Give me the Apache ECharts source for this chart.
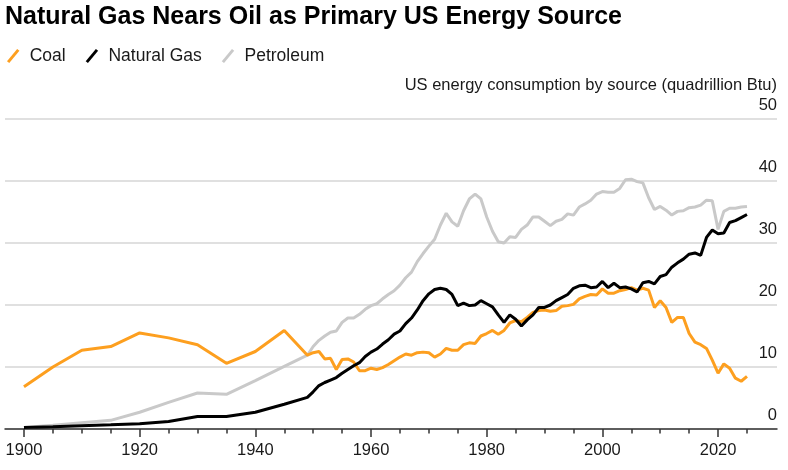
<!DOCTYPE html>
<html>
<head>
<meta charset="utf-8">
<script src="https://cdn.jsdelivr.net/npm/echarts@6/dist/echarts.min.js"></script>
<style>
  html, body { margin: 0; padding: 0; background: #fff; }
  #chart { width: 788px; height: 470px; }
</style>
</head>
<body>
<div id="chart"></div>
<script>
// years: 5-year steps before 1949, annual after
const years = [1900, 1905, 1910, 1915, 1920, 1925, 1930, 1935, 1940, 1945,
  1949, 1950, 1951, 1952, 1953, 1954, 1955, 1956, 1957, 1958, 1959,
  1960, 1961, 1962, 1963, 1964, 1965, 1966, 1967, 1968, 1969,
  1970, 1971, 1972, 1973, 1974, 1975, 1976, 1977, 1978, 1979,
  1980, 1981, 1982, 1983, 1984, 1985, 1986, 1987, 1988, 1989,
  1990, 1991, 1992, 1993, 1994, 1995, 1996, 1997, 1998, 1999,
  2000, 2001, 2002, 2003, 2004, 2005, 2006, 2007, 2008, 2009,
  2010, 2011, 2012, 2013, 2014, 2015, 2016, 2017, 2018, 2019,
  2020, 2021, 2022, 2023, 2024, 2025];

const coal = [6.8, 10.0, 12.7, 13.3, 15.5, 14.7, 13.6, 10.6, 12.5, 15.9,
  11.9, 12.3, 12.5, 11.3, 11.4, 9.6, 11.2, 11.3, 10.8, 9.4, 9.4,
  9.8, 9.6, 9.9, 10.4, 11.0, 11.6, 12.1, 11.9, 12.3, 12.4,
  12.3, 11.6, 12.1, 13.0, 12.7, 12.7, 13.6, 13.9, 13.8, 15.0,
  15.4, 15.9, 15.3, 15.9, 17.1, 17.5, 17.3, 18.0, 18.8, 19.1,
  19.2, 19.0, 19.1, 19.8, 19.9, 20.1, 21.0, 21.4, 21.7, 21.6,
  22.6, 21.9, 21.9, 22.3, 22.5, 22.8, 22.4, 22.7, 22.4, 19.6,
  20.7, 19.6, 17.2, 18.0, 18.0, 15.4, 14.0, 13.6, 13.0, 11.1,
  9.0, 10.5, 9.8, 8.2, 7.7, 8.5];

const naturalGas = [0.25, 0.37, 0.54, 0.67, 0.83, 1.2, 2.0, 2.0, 2.7, 4.0,
  5.1, 6.0, 7.0, 7.5, 7.9, 8.3, 9.0, 9.6, 10.2, 10.7, 11.7,
  12.4, 12.9, 13.7, 14.4, 15.3, 15.8, 17.0, 17.9, 19.2, 20.7,
  21.8, 22.5, 22.7, 22.5, 21.7, 19.9, 20.3, 19.9, 20.0, 20.7,
  20.2, 19.7, 18.4, 17.2, 18.4, 17.7, 16.6, 17.6, 18.4, 19.6,
  19.6, 20.0, 20.7, 21.2, 21.7, 22.7, 23.1, 23.2, 22.8, 22.9,
  23.8, 22.8, 23.5, 22.8, 22.9, 22.6, 22.1, 23.6, 23.8, 23.4,
  24.6, 24.9, 26.1, 26.8, 27.4, 28.2, 28.4, 28.0, 30.9, 32.1,
  31.5, 31.6, 33.3, 33.6, 34.1, 34.6];

const petroleum = [0.23, 0.6, 1.0, 1.4, 2.7, 4.3, 5.8, 5.6, 7.8, 10.1,
  11.9, 13.3, 14.3, 15.0, 15.6, 15.8, 17.2, 17.9, 17.9, 18.5, 19.3,
  19.9, 20.2, 21.0, 21.7, 22.3, 23.2, 24.4, 25.3, 27.0, 28.3,
  29.5, 30.6, 32.9, 34.8, 33.4, 32.7, 35.2, 37.1, 37.9, 37.1,
  34.2, 31.9, 30.2, 30.0, 31.0, 30.9, 32.2, 32.9, 34.2, 34.2,
  33.5, 32.8, 33.5, 33.8, 34.7, 34.5, 35.8, 36.3, 36.9, 37.9,
  38.3, 38.2, 38.2, 38.8, 40.2, 40.3, 39.9, 39.7, 37.3, 35.4,
  35.9, 35.3, 34.5, 35.1, 35.2, 35.7, 35.8, 36.1, 36.9, 36.8,
  32.2, 35.1, 35.6, 35.6, 35.8, 35.9];

const xLabelYears = [1900, 1920, 1940, 1960, 1980, 2000, 2020];
const xTickYears = [1900, 1905, 1910, 1915, 1920, 1925, 1930, 1935, 1940, 1945, 1950, 1955, 1960, 1965,
  1970, 1975, 1980, 1985, 1990, 1995, 2000, 2005, 2010, 2015, 2020, 2025];

const font = "'Liberation Sans', Arial, sans-serif";
const ink = '#1a1a1a';
const slash = 'path://M0,10.8 L9,0 L11,1.6 L2,12.4 Z';

const pairs = (vals) => years.map((y, i) => [y, vals[i]]);

const chart = echarts.init(document.getElementById('chart'));
chart.setOption({
  animation: false,
  backgroundColor: '#fff',
  textStyle: { fontFamily: font, color: ink },
  title: [{
    text: 'Natural Gas Nears Oil as Primary US Energy Source',
    left: 5, top: 5, padding: 0,
    textStyle: { fontFamily: font, fontSize: 25, fontWeight: 'bold', color: '#000' }
  }, {
    text: 'US energy consumption by source (quadrillion Btu)',
    right: 11, top: 77, padding: 0,
    textStyle: { fontFamily: font, fontSize: 16.5, fontWeight: 'normal', color: ink }
  }],
  legend: {
    left: 7, top: 47, padding: 0,
    itemWidth: 13, itemHeight: 14, itemGap: 20,
    icon: slash,
    data: ['Coal', 'Natural Gas', 'Petroleum'],
    textStyle: { fontFamily: font, fontSize: 17.5, color: ink, padding: [0, 0, 0, 5] }
  },
  grid: { left: 5, right: 11, top: 119, bottom: 41 },
  xAxis: [{
    type: 'value',
    min: 1896.72, max: 2030.19,
    axisLine: { show: true, onZero: false, lineStyle: { color: '#333', width: 1.5 } },
    axisTick: { show: true, customValues: xTickYears, length: 4.5, lineStyle: { color: '#333', width: 1.5 } },
    axisLabel: {
      customValues: xLabelYears, margin: 13, fontSize: 16.5, color: ink, fontFamily: font,
      formatter: (v) => String(v)
    },
    splitLine: { show: false }
  }, {
    type: 'value',
    position: 'bottom',
    min: 1896.72, max: 2030.19,
    axisLine: { show: false },
    axisTick: { show: true, customValues: xLabelYears, length: 8, lineStyle: { color: '#333', width: 1.5 } },
    axisLabel: { show: false },
    splitLine: { show: false }
  }],
  yAxis: {
    type: 'value',
    position: 'right',
    min: 0, max: 50, interval: 10,
    axisLine: { show: false },
    axisTick: { show: false },
    axisLabel: {
      inside: true, margin: 0, verticalAlign: 'bottom', padding: [0, 0, 5, 0],
      fontSize: 16.5, color: ink, fontFamily: font
    },
    splitLine: { lineStyle: { color: '#d6d6d6', width: 1.5 } }
  },
  series: [{
    name: 'Coal', type: 'line', data: pairs(coal), z: 3,
    showSymbol: false, symbol: 'none',
    itemStyle: { color: '#fd9f1f' },
    lineStyle: { color: '#fd9f1f', width: 3 }
  }, {
    name: 'Natural Gas', type: 'line', data: pairs(naturalGas), z: 4,
    showSymbol: false, symbol: 'none',
    itemStyle: { color: '#000' },
    lineStyle: { color: '#000', width: 3 }
  }, {
    name: 'Petroleum', type: 'line', data: pairs(petroleum), z: 2,
    showSymbol: false, symbol: 'none',
    itemStyle: { color: '#c9c9c9' },
    lineStyle: { color: '#c9c9c9', width: 3 }
  }]
});
</script>
</body>
</html>
